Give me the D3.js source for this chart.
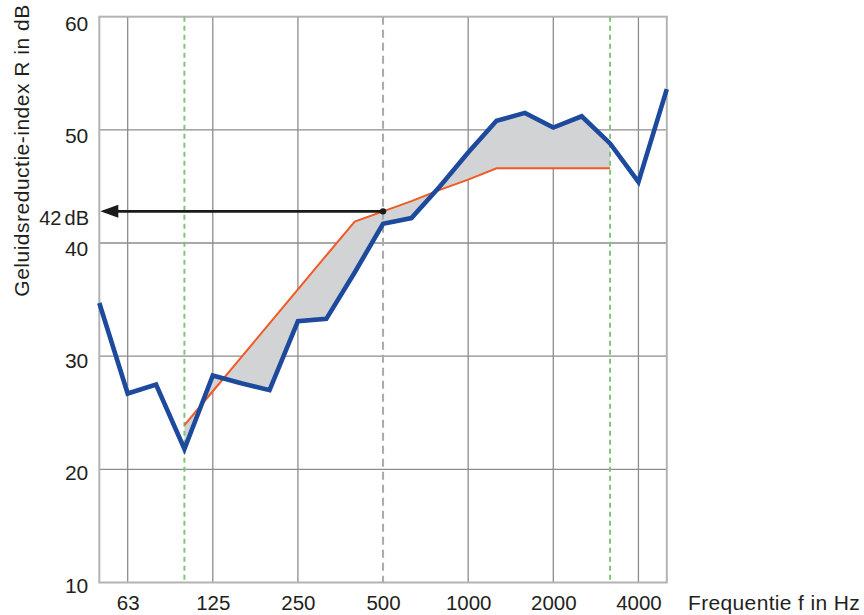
<!DOCTYPE html>
<html>
<head>
<meta charset="utf-8">
<script src="https://cdn.jsdelivr.net/npm/d3@7"></script>
<style>
  html, body { margin: 0; padding: 0; background: #ffffff; }
  svg { display: block; }
  text { font-family: "Liberation Sans", Arial, Helvetica, sans-serif; fill: #231f20; }
</style>
</head>
<body>
<svg id="chart" width="864" height="615"></svg>
<script>
// ---- data ----
const freqLabels = ["50","63","80","100","125","160","200","250","315","400","500","630","800","1000","1250","1600","2000","2500","3150","4000","5000"];
const measured = [34.7,26.7,27.5,21.8,28.3,27.6,27.0,33.1,33.3,37.4,41.7,42.2,45.0,48.0,50.8,51.5,50.2,51.2,48.8,45.4,53.6];
const refFreqs = ["100","125","160","200","250","315","400","500","630","800","1000","1250","1600","2000","2500","3150"];
const reference = [23.9,26.9,29.9,32.9,35.9,38.9,41.9,42.8,43.7,44.7,45.6,46.6,46.6,46.6,46.6,46.6];
const xTickLabels = ["63","125","250","500","1000","2000","4000"];
const xGridSolid = ["63","125","250","1000","2000","4000"];
const xGridDashedGray = ["500"];
const xGridDashedGreen = ["100","3150"];
const yTicks = [10,20,30,40,50,60];
const yGrid = [20,30,40,50];
const ratingFreq = "500";
const ratingValue = 42.8;
const ratingLabel = "42 dB";
const yTitle = "Geluidsreductie-index R in dB";
const xTitle = "Frequentie f in Hz";

// ---- scales ----
const L = 99.3, R = 666.8, T = 16.7, B = 582.5;
const x = d3.scalePoint().domain(freqLabels).range([L, R]);
const y = d3.scaleLinear().domain([10, 60]).range([B, T]);

const svg = d3.select("#chart");

// grid
svg.append("g").selectAll("line").data(yGrid).join("line")
  .attr("x1", L).attr("x2", R).attr("y1", d => y(d)).attr("y2", d => y(d))
  .attr("stroke", "#8c8c8c").attr("stroke-width", 1.3);
svg.append("g").selectAll("line").data(xGridSolid).join("line")
  .attr("x1", d => x(d)).attr("x2", d => x(d)).attr("y1", T).attr("y2", B)
  .attr("stroke", "#8c8c8c").attr("stroke-width", 1.3);

// border
svg.append("rect").attr("x", L).attr("y", T).attr("width", R - L).attr("height", B - T)
  .attr("fill", "none").attr("stroke", "#b3b3b3").attr("stroke-width", 2);

// shaded deviation area
const refMap = new Map(refFreqs.map((f, i) => [f, reference[i]]));
const measMap = new Map(freqLabels.map((f, i) => [f, measured[i]]));
const areaData = refFreqs.map(f => ({f, r: refMap.get(f), m: measMap.get(f)}));
svg.append("path").datum(areaData)
  .attr("d", d3.area().x(d => x(d.f)).y0(d => y(d.r)).y1(d => y(d.m)))
  .attr("fill", "#d1d3d4");

// dashed verticals
svg.append("g").selectAll("line").data(xGridDashedGray).join("line")
  .attr("x1", d => x(d)).attr("x2", d => x(d)).attr("y1", T).attr("y2", B)
  .attr("stroke", "#aaaaaa").attr("stroke-width", 2).attr("stroke-dasharray", "8,5");
svg.append("g").selectAll("line").data(xGridDashedGreen).join("line")
  .attr("x1", d => x(d)).attr("x2", d => x(d)).attr("y1", T).attr("y2", B)
  .attr("stroke", "#80c57a").attr("stroke-width", 2).attr("stroke-dasharray", "5,4");

// reference curve
svg.append("path").datum(refFreqs.map((f, i) => [f, reference[i]]))
  .attr("d", d3.line().x(d => x(d[0])).y(d => y(d[1])))
  .attr("fill", "none").attr("stroke", "#f15a24").attr("stroke-width", 2);

// measured curve
svg.append("path").datum(freqLabels.map((f, i) => [f, measured[i]]))
  .attr("d", d3.line().x(d => x(d[0])).y(d => y(d[1])))
  .attr("fill", "none").attr("stroke", "#1d4a9c").attr("stroke-width", 4.6)
  .attr("stroke-linejoin", "miter");

// rating arrow
const ay = y(ratingValue);
svg.append("line").attr("x1", x(ratingFreq)).attr("x2", L + 14).attr("y1", ay).attr("y2", ay)
  .attr("stroke", "#1a1a1a").attr("stroke-width", 2.6);
svg.append("path")
  .attr("d", `M${L + 1},${ay} L${L + 19},${ay - 6.5} L${L + 19},${ay + 6.5} Z`)
  .attr("fill", "#1a1a1a");
svg.append("circle").attr("cx", x(ratingFreq)).attr("cy", ay).attr("r", 3.2).attr("fill", "#1a1a1a");
svg.append("text").attr("x", 89).attr("y", ay + 13.5).attr("text-anchor", "end")
  .attr("font-size", 20).attr("word-spacing", -2.5).text(ratingLabel);

// x axis labels
const xAxis = svg.append("g").attr("transform", `translate(0,${B})`)
  .call(d3.axisBottom(x).tickValues(xTickLabels).tickSize(0).tickPadding(0));
xAxis.select(".domain").remove();
xAxis.selectAll("text").attr("font-size", 20.5).attr("fill", "#231f20")
  .attr("font-family", "Liberation Sans, Arial, sans-serif")
  .attr("dy", null).attr("y", 27.5);

// y axis labels
const yAxis = svg.append("g").attr("transform", `translate(${L},0)`)
  .call(d3.axisLeft(y).tickValues(yTicks).tickSize(0).tickPadding(11));
yAxis.select(".domain").remove();
yAxis.selectAll("text").attr("font-size", 21).attr("fill", "#231f20")
  .attr("font-family", "Liberation Sans, Arial, sans-serif")
  .attr("dy", null).attr("y", d => 9.5 + (d - 10) * 0.09);

// titles
svg.append("text").attr("transform", `translate(29,150.5) rotate(-90)`)
  .attr("text-anchor", "middle").attr("font-size", 21).attr("letter-spacing", 0.5)
  .text(yTitle);
svg.append("text").attr("x", 688).attr("y", 610).attr("font-size", 21).attr("letter-spacing", 0.35)
  .text(xTitle);
</script>
</body>
</html>
